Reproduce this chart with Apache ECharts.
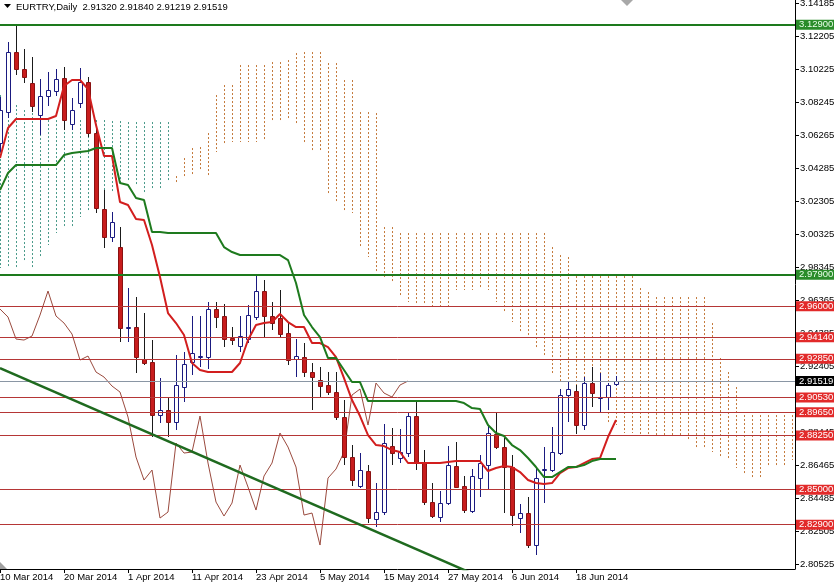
<!DOCTYPE html>
<html><head><meta charset="utf-8">
<script src="https://cdn.jsdelivr.net/npm/echarts@6/dist/echarts.min.js"></script>
<style>html,body{margin:0;padding:0;background:#fff}#c{width:834px;height:584px}</style>
</head><body><div id="c"></div>
<script>
const FONT = "'Liberation Sans', Arial, sans-serif";
const FS = 9.5;
const symbolName = 'EURTRY,Daily';
const lastQuote = ['2.91320', '2.91840', '2.91219', '2.91519'];

const dateLabels = ['10 Mar 2014','20 Mar 2014','1 Apr 2014','11 Apr 2014','23 Apr 2014','5 May 2014','15 May 2014','27 May 2014','6 Jun 2014','18 Jun 2014'];
const dateLabelIndex = [0, 8, 16, 24, 32, 40, 48, 56, 64, 72];

const yTickValues = [2.80525,2.82505,2.84485,2.86465,2.88445,2.90425,2.92405,2.94385,2.96365,2.98345,3.00325,3.02305,3.04285,3.06265,3.08245,3.10225,3.12205,3.14185];

const opens = [3.0580,3.0766,3.1126,3.1024,3.0940,3.0748,3.0862,3.0892,3.0970,3.0694,
3.0820,3.0946,3.0640,3.0184,3.0016,2.9956,2.9470,2.9476,2.9284,2.9266,
2.8948,2.8978,2.8906,2.9116,2.9266,2.9296,2.9296,2.9584,2.9542,2.9410,
2.9362,2.9404,2.9536,2.9692,2.9542,2.9530,2.9440,2.9284,2.9296,2.9206,
2.9158,2.9128,2.9086,2.8936,2.8696,2.8522,2.8612,2.8324,2.8366,2.8762,
2.8690,2.8720,2.8942,2.8660,2.8426,2.8336,2.8420,2.8642,2.8522,2.8372,
2.8570,2.8648,2.8834,2.8756,2.8636,2.8330,2.8360,2.8168,2.8618,2.8618,
2.8720,2.9068,2.9092,2.8888,2.9140,2.9050,2.9056,2.9132];
const closes = [3.0778,3.1126,3.1024,3.0976,3.0802,3.0862,3.0898,3.0964,3.0718,3.0778,
3.0946,3.0640,3.0190,3.0016,3.0106,2.9470,2.9476,2.9296,2.9260,2.8948,
2.8978,2.8906,2.9128,2.9254,2.9320,2.9302,2.9584,2.9536,2.9404,2.9398,
2.9422,2.9548,2.9692,2.9542,2.9500,2.9434,2.9278,2.9302,2.9206,2.9176,
2.9122,2.9086,2.8936,2.8696,2.8558,2.8618,2.8330,2.8366,2.8780,2.8720,
2.8726,2.8942,2.8660,2.8426,2.8342,2.8420,2.8648,2.8516,2.8378,2.8582,
2.8660,2.8840,2.8756,2.8636,2.8348,2.8360,2.8168,2.8570,2.8624,2.8726,
2.9068,2.9104,2.8888,2.9140,2.9080,2.9056,2.9128,2.91519];
const lows = [3.0526,3.0730,3.0988,3.0940,3.0766,3.0628,3.0802,3.0862,3.0658,3.0658,
3.0790,3.0616,3.0160,2.9950,2.9986,2.9386,2.9386,2.9200,2.9248,2.8816,
2.8900,2.8816,2.8858,2.9026,2.9188,2.9236,2.9224,2.9470,2.9356,2.9368,
2.9326,2.9380,2.9518,2.9416,2.9458,2.9410,2.9248,2.9176,2.9176,2.8978,
2.9056,2.9068,2.8918,2.8648,2.8522,2.8510,2.8300,2.8276,2.8348,2.8648,
2.8660,2.8696,2.8618,2.8408,2.8330,2.8306,2.8408,2.8510,2.8360,2.8360,
2.8456,2.8498,2.8744,2.8360,2.8282,2.8240,2.8150,2.8108,2.8420,2.8606,
2.8708,2.8906,2.8834,2.8858,2.8998,2.8966,2.8978,2.91219];
const highs = [3.0856,3.1186,3.1288,3.1144,3.1096,3.0964,3.1006,3.1024,3.1036,3.0850,
3.1030,3.0976,3.0682,3.0298,3.0166,3.0076,2.9710,2.9656,2.9560,2.9398,
2.9170,2.9050,2.9308,2.9326,2.9542,2.9542,2.9626,2.9626,2.9614,2.9476,
2.9542,2.9608,2.9782,2.9758,2.9626,2.9698,2.9506,2.9404,2.9380,2.9260,
2.9236,2.9206,2.9206,2.9038,2.8768,2.8720,2.8648,2.8540,2.8894,2.8870,
2.8864,2.8966,2.9038,2.8738,2.8540,2.8492,2.8762,2.8786,2.8582,2.8624,
2.8708,2.8888,2.8960,2.8810,2.8708,2.8414,2.8456,2.8630,2.8756,2.8876,
2.9104,2.9146,2.9128,2.9176,2.9236,2.9200,2.9140,2.9184];

const tenkan = [3.0490,3.0670,3.0724,3.0724,3.0724,3.0724,3.0724,3.0742,3.0922,3.0958,
3.0958,3.0904,3.0688,3.0502,3.0502,3.0226,3.0208,3.0124,3.0118,2.9968,
2.9776,2.9560,2.9500,2.9428,2.9260,2.9218,2.9206,2.9206,2.9206,2.9206,
2.9260,2.9398,2.9488,2.9500,2.9506,2.9554,2.9506,2.9476,2.9476,2.9380,
2.9380,2.9356,2.9296,2.9170,2.9038,2.8942,2.8828,2.8768,2.8762,2.8738,
2.8726,2.8660,2.8660,2.8660,2.8660,2.8660,2.8666,2.8672,2.8672,2.8672,
2.8672,2.8612,2.8630,2.8642,2.8636,2.8606,2.8558,2.8540,2.8534,2.8540,
2.8600,2.8630,2.8636,2.8660,2.8684,2.8690,2.8816,2.8918];
const kijun = [3.0298,3.0400,3.0448,3.0448,3.0448,3.0448,3.0448,3.0448,3.0508,3.0520,
3.0526,3.0532,3.0550,3.0550,3.0550,3.0340,3.0328,3.0250,3.0238,3.0046,
3.0046,3.0040,3.0040,3.0040,3.0040,3.0040,3.0040,3.0040,2.9956,2.9926,
2.9908,2.9908,2.9908,2.9908,2.9908,2.9908,2.9878,2.9740,2.9548,2.9476,
2.9416,2.9290,2.9290,2.9218,2.9146,2.9146,2.9032,2.9032,2.9032,2.9032,
2.9032,2.9032,2.9032,2.9032,2.9032,2.9032,2.9032,2.9032,2.9020,2.8990,
2.8984,2.8888,2.8840,2.8822,2.8768,2.8738,2.8690,2.8636,2.8576,2.8576,
2.8606,2.8636,2.8636,2.8648,2.8672,2.8684,2.8684,2.8684];
const chikou = [2.9584,2.9536,2.9404,2.9398,2.9422,2.9548,2.9692,2.9542,2.9500,2.9434,
2.9278,2.9302,2.9206,2.9176,2.9122,2.9086,2.8936,2.8696,2.8558,2.8618,
2.8330,2.8366,2.8780,2.8720,2.8726,2.8942,2.8660,2.8426,2.8342,2.8420,
2.8648,2.8516,2.8378,2.8582,2.8660,2.8840,2.8756,2.8636,2.8348,2.8360,
2.8168,2.8570,2.8624,2.8726,2.9068,2.9104,2.8888,2.9140,2.9080,2.9056,
2.9128,2.91519];
const senkouA = [3.0868,3.0838,3.0808,3.0778,3.0760,3.0730,3.0718,3.0718,3.0718,3.0718,
3.0718,3.0718,3.0718,3.0718,3.0712,3.0712,3.0706,3.0706,3.0706,3.0706,
3.0706,3.0706,3.0346,3.0370,3.0388,3.0418,3.0376,3.0526,3.0580,3.0586,
3.0586,3.0586,3.0586,3.0598,3.0718,3.0718,3.0730,3.0700,3.0586,3.0526,
3.0526,3.0280,3.0220,3.0178,3.0160,2.9956,2.9896,2.9800,2.9776,2.9740,
2.9656,2.9626,2.9608,2.9608,2.9596,2.9596,2.9596,2.9698,2.9698,2.9698,
2.9710,2.9698,2.9626,2.9560,2.9506,2.9446,2.9416,2.9350,2.9296,2.9200,
2.9146,2.9140,2.9068,2.9026,2.8996,2.8966,2.8906,2.8888,2.8840,2.8840,
2.8828,2.8828,2.8816,2.8816,2.8816,2.8816,2.8798,2.8756,2.8750,2.8726,
2.8690,2.8678,2.8630,2.8600,2.8570,2.8570,2.8636,2.8636,2.8636,2.8678];
const senkouB = [2.9830,2.9830,2.9830,2.9866,2.9836,2.9890,2.9968,3.0040,3.0070,3.0076,
3.0136,3.0178,3.0208,3.0238,3.0280,3.0328,3.0358,3.0328,3.0280,3.0298,
3.0298,3.0358,3.0382,3.0490,3.0550,3.0556,3.0640,3.0868,3.0928,3.0928,
3.1048,3.1048,3.1048,3.1048,3.1066,3.1066,3.1078,3.1120,3.1126,3.1126,
3.1126,3.1060,3.1060,3.0958,3.0958,3.0766,3.0766,3.0760,3.0076,3.0076,
3.0040,3.0040,3.0040,3.0040,3.0040,3.0040,3.0040,3.0040,3.0040,3.0040,
3.0040,3.0040,3.0040,3.0040,3.0040,3.0040,3.0040,3.0040,3.0040,2.9956,
2.9908,2.9896,2.9782,2.9782,2.9782,2.9782,2.9782,2.9782,2.9782,2.9782,
2.9710,2.9686,2.9656,2.9656,2.9656,2.9656,2.9656,2.9656,2.9656,2.9500,
2.9290,2.9206,2.9116,2.8948,2.8948,2.8948,2.8948,2.8948,2.8948,2.8948];

const greenLevels = [3.129, 2.979];
const redLevels = [2.96, 2.9414, 2.9285, 2.9053, 2.8965, 2.8825, 2.85, 2.829];
const currentPrice = 2.91519;
const trendLine = [[0, 2.9230], [60, 2.7977]];

const chart = echarts.init(document.getElementById('c'), null, {renderer: 'canvas'});

const candleData = opens.map((o, i) => [i, o, closes[i], lows[i], highs[i]]);
const cloudData = senkouA.map((a, i) => [i, a, senkouB[i]]);

function renderCandle(params, api) {
  const i = api.value(0), o = api.value(1), c = api.value(2), l = api.value(3), h = api.value(4);
  const po = api.coord([i, o]), pc = api.coord([i, c]), pl = api.coord([i, l]), ph = api.coord([i, h]);
  const n = Math.round(po[0]);
  const cx = n + 0.5;
  const bull = c >= o;
  const top = Math.round(Math.min(po[1], pc[1]));
  const bot = Math.round(Math.max(po[1], pc[1]));
  const wickColor = bull ? '#1a1a80' : '#1a1a1a';
  return {type: 'group', children: [
    {type: 'line', shape: {x1: cx, y1: Math.round(ph[1]), x2: cx, y2: Math.round(pl[1])},
     style: {stroke: wickColor, lineWidth: 1}},
    {type: 'rect', shape: {x: n - 1.5, y: top + 0.5, width: 4, height: Math.max(0, bot - top)},
     style: {fill: bull ? '#ffffff' : '#c81c1c', stroke: bull ? '#1a1a80' : '#8a1212', lineWidth: 1}}
  ]};
}

function renderCloud(params, api) {
  const i = api.value(0), a = api.value(1), b = api.value(2);
  const pa = api.coord([i, a]), pb = api.coord([i, b]);
  const x = Math.round(pa[0]) + 0.5;
  const bull = a >= b;
  return {type: 'line', shape: {x1: x, y1: Math.min(pa[1], pb[1]), x2: x, y2: Math.max(pa[1], pb[1])},
    style: {stroke: bull ? '#4a9a8a' : '#c47a3c', lineWidth: 1, lineDash: [2, 2]}};
}

const lblBase = {show: true, position: 'end', distance: 1, fontFamily: FONT, fontSize: FS, lineHeight: 10,
  padding: [0, 3, 0, 3], formatter: p => Number(p.value).toFixed(5)};
const levelData = [
  ...greenLevels.map(v => ({yAxis: v, lineStyle: {color: '#1d7a1d', width: 2, type: 'solid'},
     label: Object.assign({}, lblBase, {backgroundColor: '#2a8c2a', color: '#eaffea'})})),
  ...redLevels.map(v => ({yAxis: v, lineStyle: {color: '#b53636', width: 1, type: 'solid'},
     label: Object.assign({}, lblBase, {backgroundColor: '#e22a2a', color: '#ffffff'})})),
  {yAxis: currentPrice, lineStyle: {color: '#8a96a4', width: 1, type: 'solid'},
     label: Object.assign({}, lblBase, {backgroundColor: '#000000', color: '#ffffff'})}
];

chart.setOption({
  animation: false,
  backgroundColor: '#ffffff',
  title: {text: symbolName + '  ' + lastQuote.join(' '), left: 14, top: 1, padding: [1, 2],
    textStyle: {fontFamily: FONT, fontSize: FS, fontWeight: 'normal', color: '#000'}},
  grid: {left: 0, right: 39, top: 0, bottom: 15, containLabel: false, outerBoundsMode: 'none'},
  xAxis: {type: 'value', min: 0, max: 99.375,
    axisLine: {show: true, onZero: false, lineStyle: {color: '#000', width: 1}},
    axisTick: {show: true, length: 4, customValues: dateLabelIndex, lineStyle: {color: '#000'}},
    axisLabel: {customValues: dateLabelIndex, formatter: v => dateLabels[dateLabelIndex.indexOf(v)] || '',
      align: 'left', margin: 3, color: '#000', fontFamily: FONT, fontSize: FS},
    splitLine: {show: false}},
  yAxis: {type: 'value', position: 'right', min: 2.80242, max: 3.14382,
    axisLine: {show: true, onZero: false, lineStyle: {color: '#000', width: 1}},
    axisTick: {show: true, length: 4, customValues: yTickValues, lineStyle: {color: '#000'}},
    axisLabel: {customValues: yTickValues, formatter: v => Number(v).toFixed(5), margin: 5,
      color: '#000', fontFamily: FONT, fontSize: FS},
    splitLine: {show: false}},
  graphic: [
    {type: 'polygon', shape: {points: [[4, 4], [11, 4], [7.5, 8]]}, style: {fill: '#000'}, z: 100},
    {type: 'polygon', shape: {points: [[621, 0], [633, 0], [627, 6]]}, style: {fill: '#a8a8a8'}, z: 100},
    {type: 'polygon', shape: {points: [[0, 562], [0, 569], [7, 569]]}, style: {fill: '#a0a0a0'}, z: 100}
  ],
  series: [
    {name: 'cloud', type: 'custom', renderItem: renderCloud, data: cloudData, clip: true, z: 1, silent: true,
      encode: {x: 0, y: [1, 2]}},
    {name: 'chikou', type: 'line', data: chikou.map((v, i) => [i, v]), showSymbol: false, z: 2, silent: true,
      lineStyle: {color: '#9a4a3e', width: 1}},
    {name: 'candles', type: 'custom', renderItem: renderCandle, data: candleData, clip: true, z: 3, silent: true,
      encode: {x: 0, y: [1, 2, 3, 4]}},
    {name: 'levels', type: 'line', data: [], z: 4, silent: true,
      markLine: {silent: true, precision: 5, symbol: ['none', 'none'], animation: false, data: levelData}},
    {name: 'tenkan', type: 'line', data: tenkan.map((v, i) => [i, v]), showSymbol: false, z: 5, silent: true,
      lineStyle: {color: '#d21e1e', width: 2}},
    {name: 'kijun', type: 'line', data: kijun.map((v, i) => [i, v]), showSymbol: false, z: 6, silent: true,
      lineStyle: {color: '#1e7a1e', width: 2}},
    {name: 'trend', type: 'line', data: trendLine, showSymbol: false, z: 6, silent: true, clip: true,
      lineStyle: {color: '#1f6a1f', width: 2.5}}
  ]
});
</script></body></html>
